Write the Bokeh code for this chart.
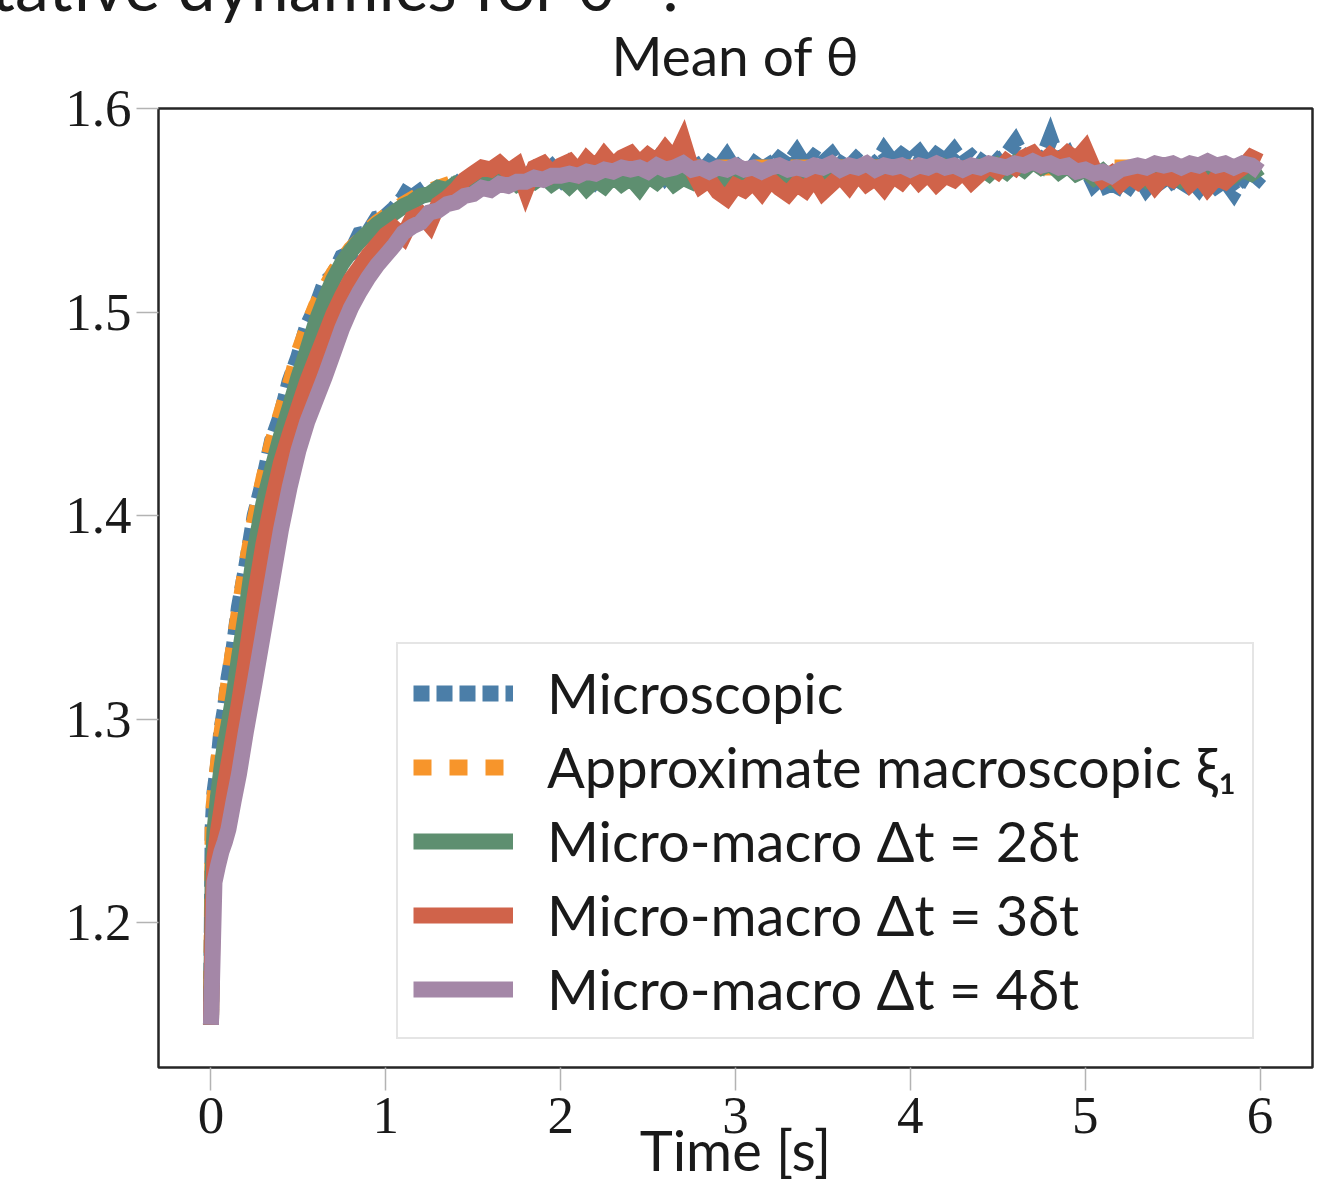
from bokeh.plotting import figure
from bokeh.models import Range1d, FixedTicker, Legend, LegendItem, Title
from bokeh.embed import file_html
from bokeh.resources import INLINE

# ---------------- data ----------------
t_early = [0.0, 0.01, 0.02, 0.04, 0.06, 0.08, 0.10, 0.13, 0.16, 0.20, 0.25, 0.30, 0.35,
           0.40, 0.45, 0.50, 0.55, 0.60, 0.65, 0.70, 0.75, 0.80, 0.85, 0.90, 0.95, 1.00]
t_late = [round(1.0 + 0.05 * k, 2) for k in range(1, 101)]   # sample times 1.05 ... 6.00
time = t_early + t_late

micro = [1.150, 1.247, 1.264, 1.277, 1.295, 1.305, 1.320, 1.335, 1.355, 1.374, 1.400, 1.417, 1.437,
         1.449, 1.466, 1.478, 1.493, 1.502, 1.514, 1.518, 1.527, 1.529, 1.538, 1.539, 1.546, 1.547,
         1.551, 1.556, 1.563, 1.557, 1.560, 1.559, 1.563, 1.562, 1.566, 1.564, 1.567, 1.565, 1.568, 1.566, 1.569, 1.566, 1.570, 1.567, 1.571, 1.566,
         1.572, 1.567, 1.571, 1.565, 1.570, 1.567, 1.573, 1.566, 1.571, 1.568, 1.574, 1.567, 1.572, 1.569, 1.575, 1.568, 1.573, 1.570, 1.576, 1.569,
         1.574, 1.571, 1.577, 1.570, 1.575, 1.572, 1.578, 1.571, 1.576, 1.573, 1.577, 1.571, 1.578, 1.574, 1.576, 1.572, 1.579, 1.573, 1.577, 1.574,
         1.578, 1.572, 1.577, 1.574, 1.579, 1.573, 1.576, 1.572, 1.578, 1.574, 1.577, 1.583, 1.575, 1.579, 1.574, 1.585, 1.573, 1.577, 1.568, 1.572,
         1.563, 1.567, 1.557, 1.565, 1.562, 1.568, 1.561, 1.566, 1.560, 1.565, 1.559, 1.566, 1.561, 1.567, 1.562, 1.565, 1.559, 1.566, 1.562, 1.567]

t_macro = [0.0, 0.01, 0.02, 0.04, 0.06, 0.08, 0.10, 0.13, 0.16, 0.20, 0.25, 0.30, 0.35, 0.40,
           0.45, 0.50, 0.55, 0.60, 0.65, 0.70, 0.75, 0.80, 0.85, 0.90, 0.95, 1.00, 1.10, 1.20,
           1.30, 1.40, 1.50, 1.60, 1.80, 2.00, 2.50, 3.00, 3.50, 4.00, 4.50, 5.00, 5.50, 6.00]
macro = [1.150, 1.250, 1.262, 1.278, 1.293, 1.306, 1.318, 1.336, 1.353, 1.375, 1.398, 1.418, 1.436, 1.450,
         1.464, 1.480, 1.492, 1.503, 1.511, 1.519, 1.525, 1.531, 1.535, 1.540, 1.544, 1.547, 1.553, 1.558,
         1.561, 1.564, 1.566, 1.567, 1.569, 1.570, 1.571, 1.571, 1.571, 1.571, 1.571, 1.571, 1.571, 1.571]

mm2 = [1.150, 1.225, 1.245, 1.262, 1.276, 1.288, 1.297, 1.312, 1.330, 1.352, 1.383, 1.406, 1.423,
       1.439, 1.453, 1.468, 1.481, 1.495, 1.506, 1.516, 1.524, 1.530, 1.535, 1.539, 1.543, 1.546,
       1.549, 1.552, 1.554, 1.557, 1.558, 1.561, 1.560, 1.563, 1.562, 1.565, 1.563, 1.566, 1.564, 1.567, 1.563, 1.566, 1.564, 1.567, 1.563, 1.566,
       1.562, 1.566, 1.561, 1.565, 1.562, 1.567, 1.563, 1.566, 1.561, 1.567, 1.564, 1.568, 1.563, 1.566, 1.564, 1.569, 1.565, 1.568, 1.564, 1.567,
       1.565, 1.569, 1.566, 1.568, 1.564, 1.567, 1.565, 1.569, 1.566, 1.568, 1.565, 1.569, 1.566, 1.570, 1.567, 1.569, 1.566, 1.570, 1.567, 1.569,
       1.566, 1.570, 1.567, 1.571, 1.568, 1.570, 1.567, 1.571, 1.568, 1.572, 1.569, 1.573, 1.570, 1.574, 1.571, 1.573, 1.569, 1.572, 1.568, 1.570,
       1.566, 1.569, 1.565, 1.568, 1.566, 1.569, 1.565, 1.568, 1.566, 1.569, 1.565, 1.568, 1.566, 1.570, 1.566, 1.569, 1.567, 1.570, 1.568, 1.571]

mm3 = [1.150, 1.205, 1.232, 1.245, 1.256, 1.268, 1.278, 1.293, 1.308, 1.330, 1.360, 1.386, 1.407,
       1.426, 1.440, 1.453, 1.466, 1.477, 1.488, 1.499, 1.508, 1.516, 1.522, 1.528, 1.533, 1.538,
       1.541, 1.537, 1.546, 1.548, 1.543, 1.553, 1.556, 1.560, 1.565, 1.568, 1.571, 1.570, 1.573, 1.569, 1.572, 1.560, 1.571, 1.573, 1.568, 1.572,
       1.574, 1.569, 1.575, 1.571, 1.577, 1.572, 1.576, 1.578, 1.573, 1.577, 1.574, 1.580, 1.575, 1.584, 1.570, 1.562, 1.565, 1.559, 1.556, 1.562,
       1.560, 1.564, 1.559, 1.565, 1.561, 1.558, 1.563, 1.560, 1.566, 1.559, 1.563, 1.567, 1.562, 1.568, 1.563, 1.566, 1.561, 1.567, 1.564, 1.569,
       1.564, 1.568, 1.563, 1.567, 1.565, 1.569, 1.564, 1.568, 1.572, 1.569, 1.574, 1.571, 1.576, 1.578, 1.573, 1.577, 1.574, 1.578, 1.575, 1.580,
       1.570, 1.565, 1.568, 1.563, 1.567, 1.564, 1.568, 1.562, 1.567, 1.565, 1.569, 1.563, 1.567, 1.561, 1.566, 1.564, 1.568, 1.571, 1.576, 1.574]

mm4 = [1.150, 1.185, 1.220, 1.228, 1.235, 1.240, 1.246, 1.260, 1.273, 1.294, 1.318, 1.343, 1.368,
       1.393, 1.414, 1.432, 1.446, 1.457, 1.468, 1.480, 1.492, 1.502, 1.510, 1.517, 1.523, 1.528,
       1.533, 1.539, 1.542, 1.544, 1.549, 1.550, 1.553, 1.554, 1.557, 1.558, 1.561, 1.560, 1.563, 1.562, 1.564, 1.564, 1.566, 1.565, 1.567, 1.567,
       1.568, 1.567, 1.569, 1.568, 1.570, 1.569, 1.571, 1.570, 1.571, 1.569, 1.572, 1.570, 1.571, 1.573, 1.570, 1.571, 1.569, 1.571, 1.570, 1.572,
       1.570, 1.571, 1.569, 1.571, 1.572, 1.570, 1.571, 1.570, 1.572, 1.571, 1.573, 1.570, 1.572, 1.571, 1.573, 1.570, 1.572, 1.571, 1.572, 1.570,
       1.572, 1.571, 1.573, 1.571, 1.572, 1.570, 1.572, 1.571, 1.573, 1.572, 1.571, 1.573, 1.572, 1.574, 1.572, 1.573, 1.571, 1.572, 1.569, 1.570,
       1.568, 1.569, 1.567, 1.570, 1.571, 1.572, 1.571, 1.573, 1.572, 1.573, 1.571, 1.573, 1.572, 1.574, 1.572, 1.573, 1.571, 1.573, 1.572, 1.569]

labels = ["Microscopic", "Approximate macroscopic \u03be\u2081", "Micro-macro \u0394t = 2\u03b4t",
          "Micro-macro \u0394t = 3\u03b4t", "Micro-macro \u0394t = 4\u03b4t"]
x_ticks = [0, 1, 2, 3, 4, 5, 6]
y_ticks = [1.2, 1.3, 1.4, 1.5, 1.6]

# ---------------- figure ----------------
SANS = "Lato"
SERIF = "Liberation Serif"
TXT = "#1a1a1a"

p = figure(width=1342, height=1185, x_range=Range1d(-0.3, 6.3), y_range=Range1d(1.129, 1.6),
           output_backend="svg", toolbar_location=None, title=None,
           min_border_left=158, min_border_right=30, min_border_top=108, min_border_bottom=118)
p.grid.visible = False
p.outline_line_color = "#262626"
p.outline_line_width = 2.5
p.background_fill_color = "white"
p.border_fill_color = "white"

p.xaxis.ticker = FixedTicker(ticks=x_ticks)
p.yaxis.ticker = FixedTicker(ticks=y_ticks)
for ax in (p.xaxis[0], p.yaxis[0]):
    ax.axis_line_color = None
    ax.major_tick_line_color = "#b3b3b3"
    ax.major_tick_line_width = 1.5
    ax.major_tick_in = 0
    ax.minor_tick_line_color = None
    ax.major_label_text_font = SERIF
    ax.major_label_text_font_size = "53px"
    ax.major_label_text_color = TXT
p.xaxis.major_tick_out = 23
p.xaxis.major_label_standoff = 7
p.yaxis.major_tick_out = 22
p.yaxis.major_label_standoff = 5

p.xaxis.axis_label = "Time [s]"
p.xaxis.axis_label_text_font = SANS
p.xaxis.axis_label_text_font_size = "56px"
p.xaxis.axis_label_text_font_style = "normal"
p.xaxis.axis_label_text_color = TXT
p.xaxis.axis_label_standoff = -20

LW = 16
r_micro = p.line(time, micro, line_width=LW, line_color="#4b7ea8", line_dash="16 7", line_join="miter")
r_macro = p.line(t_macro, macro, line_width=LW, line_color="#f7952b", line_dash="18 18", line_join="miter")
r_mm2 = p.line(time, mm2, line_width=LW, line_color="#5e8f70", line_join="miter")
r_mm3 = p.line(time, mm3, line_width=LW, line_color="#d0634a", line_join="miter")
r_mm4 = p.line(time, mm4, line_width=LW, line_color="#a487a7", line_join="miter")

legend = Legend(items=[LegendItem(label=lab, renderers=[r]) for lab, r in
                       zip(labels, [r_micro, r_macro, r_mm2, r_mm3, r_mm4])],
                location=(238, 28), glyph_width=100, glyph_height=56, label_height=56,
                spacing=7, padding=15, label_standoff=34, margin=0,
                label_text_font=SANS, label_text_font_size="56px", label_text_color=TXT,
                border_line_color="#cccccc", border_line_width=2, background_fill_alpha=1.0)
p.add_layout(legend)

# title (closest to the frame), then the clipped super-title above it
p.add_layout(Title(text="Mean of \u03b8", align="center", vertical_align="top", standoff=37,
                   text_font=SANS, text_font_size="55px", text_font_style="normal",
                   text_color=TXT), "above")
p.add_layout(Title(text="Qualitative dynamics for \u03b8\u207d\u00b9\u207e:", align="right",
                   offset=632, vertical_align="top", standoff=-120,
                   text_font=SANS, text_font_size="68px", text_font_style="normal",
                   text_color=TXT), "above")

open("out.html", "w").write(file_html(p, INLINE))
